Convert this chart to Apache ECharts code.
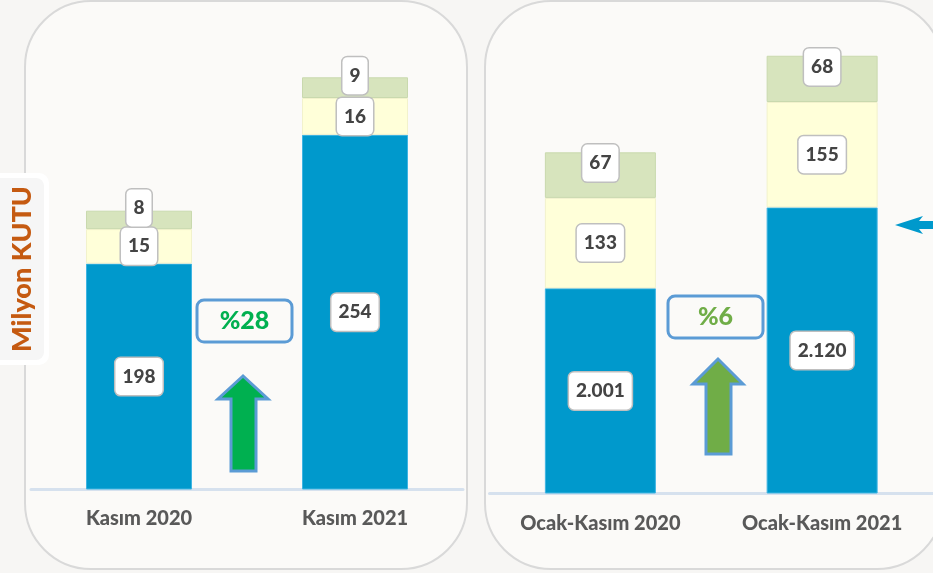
<!DOCTYPE html>
<html>
<head>
<meta charset="utf-8">
<title>Milyon KUTU</title>
<script src="https://cdn.jsdelivr.net/npm/echarts@6/dist/echarts.min.js"></script>
<style>
  html, body { margin: 0; padding: 0; background: #F7F6F4; }
  #mainChart { width: 933px; height: 573px; }
</style>
</head>
<body>
<div id="mainChart"></div>
<script>
// aylık (Kasım) ve kümülatif (Ocak-Kasım) değerler, milyon kutu
var monthCategories = ['Kasım 2020', 'Kasım 2021'];
var monthBlue = [198, 254];
var monthYellow = [15, 16];
var monthGreen = [8, 9];

var ytdCategories = ['Ocak-Kasım 2020', 'Ocak-Kasım 2021'];
var ytdBlue = [2001, 2120];
var ytdYellow = [133, 155];
var ytdGreen = [67, 68];

var changeLabels = ['%28', '%6'];

function formatNum(v) {
  return String(v).replace(/\B(?=(\d{3})+(?!\d))/g, '.');
}

var boxLabel = {
  show: true,
  position: 'inside',
  formatter: function (p) { return formatNum(p.value); },
  color: '#444444',
  fontSize: 19,
  fontWeight: 900,
  backgroundColor: '#ffffff',
  borderColor: '#BFBFBF',
  borderWidth: 1.5,
  borderRadius: 5,
  padding: [10, 7, 8, 7]
};

function barSeries(name, data, idx, color, border, width, offsetY) {
  return {
    name: name,
    type: 'bar',
    stack: 'total' + idx,
    xAxisIndex: idx,
    yAxisIndex: idx,
    barWidth: width,
    data: data,
    itemStyle: { color: color, borderColor: border, borderWidth: 1 },
    label: Object.assign({}, boxLabel, { offset: [0, offsetY] })
  };
}

function arrow(x, tipY, baseY, bottomY, fill) {
  return {
    type: 'polygon',
    z: 20,
    shape: {
      points: [[x, tipY], [x - 25, baseY], [x - 12, baseY], [x - 12, bottomY],
               [x + 13, bottomY], [x + 13, baseY], [x + 25, baseY]]
    },
    style: { fill: fill, stroke: '#5B9BD5', lineWidth: 3 }
  };
}

function changeBox(x, y, text, color) {
  return [
    {
      type: 'rect', z: 20,
      shape: { x: x, y: y, width: 95, height: 42, r: 7 },
      style: { fill: '#FBFAF8', stroke: '#5B9BD5', lineWidth: 3 }
    },
    {
      type: 'text', z: 21,
      x: x + 47.5, y: y + 21,
      style: {
        text: text, fill: color, font: '900 25px Lato',
        align: 'center', verticalAlign: 'middle'
      }
    }
  ];
}

var myChart = echarts.init(document.getElementById('mainChart'));

var option = {
  backgroundColor: '#F7F6F4',
  textStyle: { fontFamily: 'Lato' },
  animation: false,
  grid: [
    { left: 31, width: 432, top: 29, bottom: 84 },
    { left: 489.5, width: 448, top: 17, bottom: 80 }
  ],
  xAxis: [
    {
      type: 'category', gridIndex: 0, data: monthCategories,
      axisTick: { show: false },
      axisLine: { lineStyle: { color: '#D6E1EE', width: 3 } },
      axisLabel: { margin: 20, fontSize: 20, fontWeight: 900, color: '#595959' }
    },
    {
      type: 'category', gridIndex: 1, data: ytdCategories,
      axisTick: { show: false },
      axisLine: { lineStyle: { color: '#D6E1EE', width: 3 } },
      axisLabel: { margin: 21, fontSize: 20, fontWeight: 900, color: '#595959' }
    }
  ],
  yAxis: [
    { type: 'value', gridIndex: 0, min: 100, max: 300, show: false, splitLine: { show: false } },
    { type: 'value', gridIndex: 1, min: 1700, max: 2400, show: false, splitLine: { show: false } }
  ],
  series: [
    barSeries('Seri 1', monthBlue, 0, '#0099CC', '#3FB4E2', 106, 0),
    barSeries('Seri 2', monthYellow, 0, '#FFFFD9', '#F2F2CC', 106, 0),
    barSeries('Seri 3', monthGreen, 0, '#D7E4BD', '#C9D9AE', 106, -12),
    barSeries('Seri 1', ytdBlue, 1, '#0099CC', '#3FB4E2', 111, 0),
    barSeries('Seri 2', ytdYellow, 1, '#FFFFD9', '#F2F2CC', 111, 0),
    barSeries('Seri 3', ytdGreen, 1, '#D7E4BD', '#C9D9AE', 111, -12)
  ],
  graphic: [
    {
      type: 'rect', z: -10,
      shape: { x: 25, y: 1, width: 442, height: 568, r: 66 },
      style: { fill: '#FBFAF8', stroke: '#D9D9D9', lineWidth: 2 }
    },
    {
      type: 'rect', z: -10,
      shape: { x: 485, y: 1, width: 458, height: 568, r: 66 },
      style: { fill: '#FBFAF8', stroke: '#D9D9D9', lineWidth: 2 }
    },
    {
      type: 'rect', z: 20,
      shape: { x: -12, y: 173, width: 61, height: 192, r: 10 },
      style: { fill: '#ffffff' }
    },
    {
      type: 'rect', z: 20,
      shape: { x: -8, y: 178, width: 52, height: 182, r: 8 },
      style: { fill: '#F6F6F6' }
    },
    {
      type: 'text', z: 21,
      x: 22, y: 269, rotation: Math.PI / 2,
      style: {
        text: 'Milyon KUTU', fill: '#C55A11', font: '900 27px Lato',
        align: 'center', verticalAlign: 'middle'
      }
    },
    arrow(243, 376, 399, 471, '#00B050'),
    arrow(718, 359, 384, 454, '#70AD47'),
    {
      type: 'polygon', z: 20,
      shape: {
        points: [[895, 225], [923, 216], [919, 221], [935, 221], [935, 229], [919, 229], [923, 234]]
      },
      style: { fill: '#0099CC' }
    }
  ].concat(changeBox(197, 300, changeLabels[0], '#00B050'))
   .concat(changeBox(668, 296, changeLabels[1], '#70AD47'))
};

myChart.setOption(option);
</script>
</body>
</html>
